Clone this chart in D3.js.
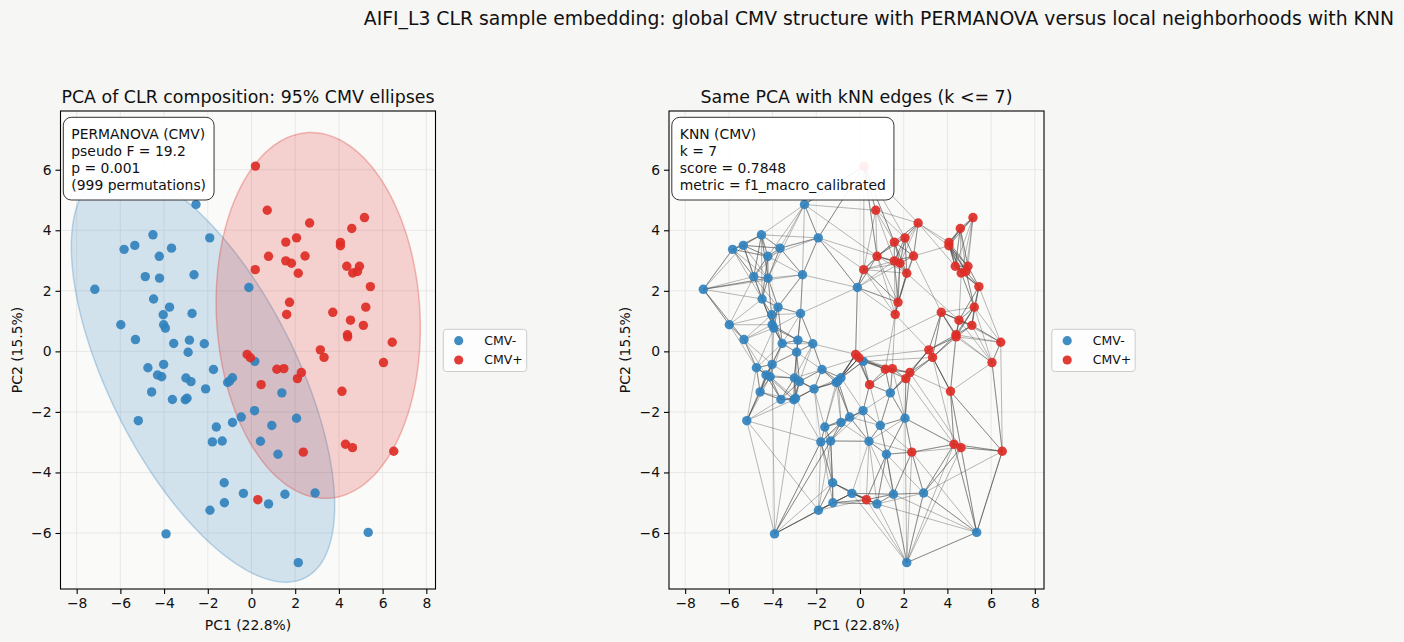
<!DOCTYPE html>
<html><head><meta charset="utf-8">
<script src="https://cdn.jsdelivr.net/npm/d3@7"></script>
<style>body{margin:0;background:#f6f6f5;} text{font-family:"DejaVu Sans",sans-serif;fill:#111;}</style>
</head><body><svg id="c" width="1404" height="642"></svg>
<script>
// ---------------- data ----------------
const groups = ["CMV-", "CMV+"];
const groupColors = ["#3182bd", "#de2d26"];
const cmvNegPC1 = [-2.54,-4.51,-1.91,-5.83,-5.34,-3.66,-4.22,-4.86,-4.21,-2.63,-7.17,-0.12,-4.48,-3.75,-4.04,-2.72,-5.98,-4.02,-3.94,-5.31,-3.56,-2.84,-2.16,-2.90,-4.74,-4.02,-4.30,-4.11,-3.00,-2.77,-4.57,-2.10,-3.62,-3.03,-2.95,-5.18,0.15,-1.74,-0.87,-1.09,-1.00,1.39,0.14,-0.47,-0.87,2.06,-1.61,0.93,-1.79,-1.34,0.41,1.21,-1.25,-0.37,1.53,2.91,-1.24,0.78,-1.90,5.34,2.14,-3.91];
const cmvNegPC2 = [4.85,3.85,3.75,3.37,3.50,3.41,3.14,2.47,2.42,2.53,2.05,2.11,1.73,1.46,1.21,1.25,0.88,0.88,0.77,0.39,0.26,0.37,0.25,-0.03,-0.54,-0.43,-0.78,-0.84,-0.88,-1.00,-1.34,-1.24,-1.59,-1.60,-1.55,-2.29,-0.33,-0.60,-0.87,-1.03,-0.98,-1.37,-1.96,-2.17,-2.35,-2.21,-2.50,-2.45,-2.99,-2.96,-2.97,-3.40,-4.34,-4.69,-4.72,-4.68,-5.00,-5.04,-5.25,-5.98,-6.98,-6.03];
const cmvPosPC1 = [0.18,0.72,5.17,2.66,4.59,1.57,2.06,4.07,4.07,0.78,2.45,1.57,1.83,2.14,4.36,4.94,4.63,4.85,0.17,5.44,1.74,1.61,5.23,3.72,4.53,5.12,4.39,4.40,6.44,3.15,3.32,6.04,-0.20,-0.05,1.16,1.48,2.28,2.10,0.44,4.14,4.30,4.62,6.51,2.37,0.29];
const cmvPosPC2 = [6.12,4.66,4.42,4.24,4.06,3.61,3.75,3.60,3.49,3.14,3.15,2.99,2.91,2.58,2.81,2.81,2.59,2.64,2.70,2.14,1.62,1.22,1.46,1.29,1.03,0.86,0.55,0.48,0.30,0.05,-0.20,-0.37,-0.10,-0.21,-0.59,-0.57,-0.70,-0.90,-1.10,-1.32,-3.07,-3.18,-3.30,-3.33,-4.90];
// longer neighbour links seen in the reference (N = CMV- index, P = CMV+ index)
const extraEdges = [
 ["N0","P1"],["N0","P0"],["N2","P0"],["P0","P9"],["P0","P18"],["P0","P5"],["N2","P9"],["N2","N11"],["N0","P9"],
 ["N10","N9"],["N10","N8"],["N10","N19"],
 ["N61","N25"],["N61","N48"],["N61","N49"],["N61","N34"],["N35","N58"],["N35","N48"],
 ["N60","P40"],["N60","P41"],["N60","N51"],["N60","N45"],["N59","P42"],["N59","P40"],["N59","N57"],["N59","N55"],
 ["P42","P31"],["P42","P39"],["P41","P36"],["P40","P37"],
 ["N11","P18"],["N11","P20"],["N11","P32"],["P18","P21"],["P9","P21"],
 ["P32","P23"],["P33","P29"],["N36","P30"],["N41","P29"],
 ["N9","N11"],["N15","N11"],["N22","P32"],["N37","P33"],
 ["P3","P14"],["P10","P23"],["P13","P24"]
];
const xTicks = [-8,-6,-4,-2,0,2,4,6,8];
const yTicks = [-6,-4,-2,0,2,4,6];
const xDomain = [-8.74, 8.42];
const yDomain = [-7.85, 7.94];
const kNeighbors = 7;
const suptitle = "AIFI_L3 CLR sample embedding: global CMV structure with PERMANOVA versus local neighborhoods with KNN";
const panelTitles = ["PCA of CLR composition: 95% CMV ellipses", "Same PCA with kNN edges (k <= 7)"];
const xLabel = "PC1 (22.8%)", yLabel = "PC2 (15.5%)";
const permanovaText = ["PERMANOVA (CMV)", "pseudo F = 19.2", "p = 0.001", "(999 permutations)"];
const knnText = ["KNN (CMV)", "k = 7", "score = 0.7848", "metric = f1_macro_calibrated"];
const chi2_95_2df = 5.991;

// ---------------- build ----------------
const pts = [];
cmvNegPC1.forEach((x,i)=>pts.push({x, y:cmvNegPC2[i], g:0}));
cmvPosPC1.forEach((x,i)=>pts.push({x, y:cmvPosPC2[i], g:1}));
const idx = s => (s[0]==="N" ? 0 : cmvNegPC1.length) + (+s.slice(1));

const svg = d3.select("#c");
svg.append("rect").attr("width",1404).attr("height",642).attr("fill","#f6f6f5");

svg.append("text").attr("x",1394).attr("y",25).attr("text-anchor","end")
  .style("font-size","18.8px").text(suptitle);

const panels = [{x0:60.5,x1:435.5},{x0:669,x1:1044}];
const Y0=111, Y1=589;

function ellipseParams(g){
  const P = pts.filter(p=>p.g===g);
  const n=P.length, mx=d3.mean(P,p=>p.x), my=d3.mean(P,p=>p.y);
  let sxx=0,syy=0,sxy=0;
  P.forEach(p=>{sxx+=(p.x-mx)**2; syy+=(p.y-my)**2; sxy+=(p.x-mx)*(p.y-my);});
  sxx/=(n-1); syy/=(n-1); sxy/=(n-1);
  const tr=sxx+syy, det=sxx*syy-sxy*sxy;
  const l1=tr/2+Math.sqrt(tr*tr/4-det), l2=tr/2-Math.sqrt(tr*tr/4-det);
  const ang=Math.atan2(l1-sxx, sxy);
  return {mx,my,a:Math.sqrt(l1*chi2_95_2df),b:Math.sqrt(l2*chi2_95_2df),ang};
}

function knnEdges(){
  const E=[];
  pts.forEach((p,i)=>{
    const d = pts.map((q,j)=>({j, d:(p.x-q.x)**2+(p.y-q.y)**2})).filter(o=>o.j!==i)
      .sort((a,b)=>a.d-b.d).slice(0,kNeighbors);
    d.forEach(o=>E.push([i,o.j]));
  });
  extraEdges.forEach(e=>E.push([idx(e[0]),idx(e[1])]));
  return E;
}

panels.forEach((pn,pi)=>{
  const x = d3.scaleLinear().domain(xDomain).range([pn.x0,pn.x1]);
  const y = d3.scaleLinear().domain(yDomain).range([Y1,Y0]);
  const g = svg.append("g");
  const cid="clip"+pi;
  svg.append("clipPath").attr("id",cid).append("rect")
    .attr("x",pn.x0).attr("y",Y0).attr("width",pn.x1-pn.x0).attr("height",Y1-Y0);
  g.append("rect").attr("x",pn.x0).attr("y",Y0).attr("width",pn.x1-pn.x0).attr("height",Y1-Y0).attr("fill","#fafaf9");
  // grid
  g.selectAll(".gx").data(xTicks).enter().append("line")
    .attr("x1",d=>x(d)).attr("x2",d=>x(d)).attr("y1",Y0).attr("y2",Y1)
    .attr("stroke","#e3e3e3").attr("stroke-width",0.8);
  g.selectAll(".gy").data(yTicks).enter().append("line")
    .attr("y1",d=>y(d)).attr("y2",d=>y(d)).attr("x1",pn.x0).attr("x2",pn.x1)
    .attr("stroke","#e3e3e3").attr("stroke-width",0.8);
  const inner = g.append("g").attr("clip-path",`url(#${cid})`);
  if(pi===0){
    [0,1].forEach(gr=>{
      const e=ellipseParams(gr);
      const line=d3.line().x(d=>x(d[0])).y(d=>y(d[1]));
      const poly=d3.range(0,361,2).map(t=>{
        const r=t*Math.PI/180, u=e.a*Math.cos(r), v=e.b*Math.sin(r);
        return [e.mx+u*Math.cos(e.ang)-v*Math.sin(e.ang), e.my+u*Math.sin(e.ang)+v*Math.cos(e.ang)];
      });
      inner.append("path").attr("d",line(poly)+"Z")
        .attr("fill",groupColors[gr]).attr("fill-opacity",0.2)
        .attr("stroke",groupColors[gr]).attr("stroke-opacity",0.3).attr("stroke-width",1.5);
    });
  } else {
    inner.selectAll(".edge").data(knnEdges()).enter().append("line")
      .attr("x1",d=>x(pts[d[0]].x)).attr("y1",d=>y(pts[d[0]].y))
      .attr("x2",d=>x(pts[d[1]].x)).attr("y2",d=>y(pts[d[1]].y))
      .attr("stroke","#3a3a3a").attr("stroke-opacity",0.4).attr("stroke-width",0.9);
  }
  inner.selectAll(".pt").data(pts).enter().append("circle")
    .attr("cx",d=>x(d.x)).attr("cy",d=>y(d.y)).attr("r",4.7)
    .attr("fill",d=>groupColors[d.g]).attr("fill-opacity",0.92);
  // spines
  g.append("rect").attr("x",pn.x0).attr("y",Y0).attr("width",pn.x1-pn.x0).attr("height",Y1-Y0)
    .attr("fill","none").attr("stroke","#000").attr("stroke-width",1.1);
  // axes
  const ax=g.append("g").attr("transform",`translate(0,${Y1})`)
    .call(d3.axisBottom(x).tickValues(xTicks).tickSize(5).tickPadding(4).tickFormat(d=>d<0?"\u2212"+(-d):d));
  const ay=g.append("g").attr("transform",`translate(${pn.x0},0)`)
    .call(d3.axisLeft(y).tickValues(yTicks).tickSize(5).tickPadding(4).tickFormat(d=>d<0?"\u2212"+(-d):d));
  [ax,ay].forEach(a=>{a.select(".domain").remove();
    a.selectAll("line").attr("stroke","#000").attr("stroke-width",1.1);
    a.selectAll("text").style("font-size","13.9px").attr("fill","#111").style("font-family","DejaVu Sans");});
  // labels
  const cx=(pn.x0+pn.x1)/2;
  g.append("text").attr("x",cx).attr("y",630).attr("text-anchor","middle").style("font-size","13.9px").text(xLabel);
  g.append("text").attr("transform",`translate(${pn.x0-39},${(Y0+Y1)/2}) rotate(-90)`)
    .attr("text-anchor","middle").style("font-size","13.9px").text(yLabel);
  g.append("text").attr("x",cx).attr("y",103).attr("text-anchor","middle").style("font-size","17.4px").text(panelTitles[pi]);
  // annotation box
  const lines = pi===0?permanovaText:knnText;
  const bx=pn.x0+2.8, by=117.3;
  const boxG=g.append("g");
  const br=boxG.append("rect");
  const tg=boxG.append("g");
  lines.forEach((t,i)=>tg.append("text").attr("x",bx+8).attr("y",138.5+i*17.3).style("font-size","13.9px").text(t));
  const bb=tg.node().getBBox();
  br.attr("x",bx).attr("y",by).attr("width",bb.width+16).attr("height",200-by).attr("rx",8)
    .attr("fill","#fff").attr("fill-opacity",0.92).attr("stroke","#333").attr("stroke-width",1);
  // legend
  const lx=pn.x1+7.8, ly=329.3;
  const lg=g.append("g");
  lg.append("rect").attr("x",lx).attr("y",ly).attr("width",83.4).attr("height",42.2).attr("rx",3)
    .attr("fill","#fff").attr("fill-opacity",0.8).attr("stroke","#ccc").attr("stroke-width",1);
  groups.forEach((gname,i)=>{
    lg.append("circle").attr("cx",lx+15.4).attr("cy",ly+11.4+i*19.3).attr("r",4.6).attr("fill",groupColors[i]).attr("fill-opacity",0.92);
    lg.append("text").attr("x",lx+41).attr("y",ly+11.4+i*19.3).attr("dy","0.35em").style("font-size","12.5px").text(gname);
  });
});
</script></body></html>
